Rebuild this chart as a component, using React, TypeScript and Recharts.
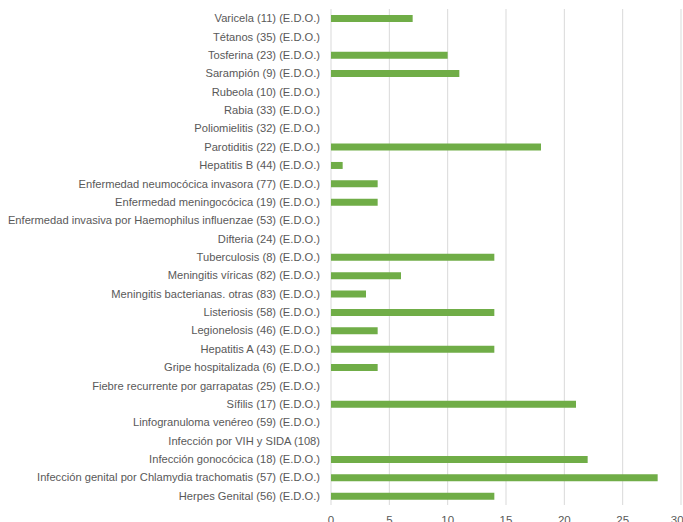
import { BarChart, Bar, XAxis, YAxis, CartesianGrid } from "recharts";

// Enfermedades de declaración obligatoria, de arriba a abajo
const CATEGORIES = [
  "Varicela (11) (E.D.O.)",
  "Tétanos (35) (E.D.O.)",
  "Tosferina (23) (E.D.O.)",
  "Sarampión (9) (E.D.O.)",
  "Rubeola (10) (E.D.O.)",
  "Rabia (33) (E.D.O.)",
  "Poliomielitis (32) (E.D.O.)",
  "Parotiditis (22) (E.D.O.)",
  "Hepatitis B (44) (E.D.O.)",
  "Enfermedad neumocócica invasora (77) (E.D.O.)",
  "Enfermedad meningocócica (19) (E.D.O.)",
  "Enfermedad invasiva por Haemophilus influenzae (53) (E.D.O.)",
  "Difteria (24) (E.D.O.)",
  "Tuberculosis (8) (E.D.O.)",
  "Meningitis víricas (82) (E.D.O.)",
  "Meningitis bacterianas. otras (83) (E.D.O.)",
  "Listeriosis (58) (E.D.O.)",
  "Legionelosis (46) (E.D.O.)",
  "Hepatitis A (43) (E.D.O.)",
  "Gripe hospitalizada (6) (E.D.O.)",
  "Fiebre recurrente por garrapatas (25) (E.D.O.)",
  "Sífilis (17) (E.D.O.)",
  "Linfogranuloma venéreo (59) (E.D.O.)",
  "Infección por VIH y SIDA (108)",
  "Infección gonocócica (18) (E.D.O.)",
  "Infección genital por Chlamydia trachomatis (57) (E.D.O.)",
  "Herpes Genital (56) (E.D.O.)",
];

const CASES = [
  7, 0, 10, 11, 0, 0, 0, 18, 1, 4, 4, 0, 0, 14, 6, 3, 14, 4, 14, 4, 0, 21, 0,
  0, 22, 28, 14,
];

const X_TICKS = [0, 5, 10, 15, 20, 25, 30];

const data = CATEGORIES.map((name, i) => ({ name, casos: CASES[i] }));

const FONT = "'Liberation Sans', Arial, sans-serif";
const TEXT_COLOR = "#595959";

// single-line category label (the default tick wraps long names)
// eslint-disable-next-line @typescript-eslint/no-explicit-any
function CategoryTick(props: any) {
  const { x = 0, y = 0, payload } = props;
  return (
    <text
      x={x}
      y={y}
      textAnchor="end"
      dominantBaseline="central"
      fill={TEXT_COLOR}
      fontSize={11.15}
      fontFamily={FONT}
    >
      {payload?.value}
    </text>
  );
}

export default function App() {
  return (
    <div style={{ position: "absolute", left: 0, top: 0, width: 683, height: 522, overflow: "hidden", background: "#fff" }}>
      <BarChart
        width={683}
        height={540}
        data={data}
        layout="vertical"
        margin={{ top: 9, right: 2, bottom: 0, left: 0 }}
      >
        <CartesianGrid horizontal={false} stroke="#d9d9d9" />
        <XAxis
          type="number"
          domain={[0, 30]}
          ticks={X_TICKS}
          height={35}
          axisLine={false}
          tickLine={false}
          tickMargin={5}
          tick={{ fill: TEXT_COLOR, fontSize: 11.5, fontFamily: FONT }}
        />
        <YAxis
          type="category"
          dataKey="name"
          width={331}
          interval={0}
          axisLine={false}
          tickLine={false}
          tickMargin={5}
          tick={<CategoryTick />}
        />
        <Bar dataKey="casos" fill="#70ad47" barSize={7} isAnimationActive={false} />
      </BarChart>
    </div>
  );
}
